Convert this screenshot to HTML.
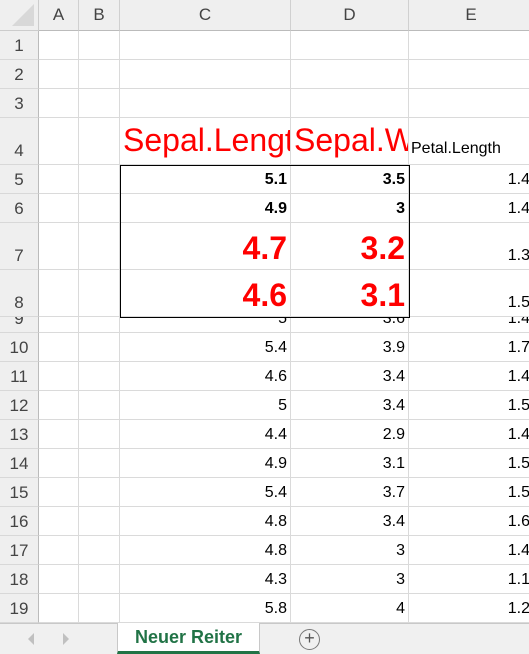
<!DOCTYPE html>
<html><head><meta charset="utf-8"><style>
*{box-sizing:border-box;margin:0;padding:0}
body{width:529px;height:654px;overflow:hidden;background:#fff;font-family:"Liberation Sans",Calibri,sans-serif;position:relative}
.abs{position:absolute}
.hdr{background:#efefef;color:#444;font-size:17px;display:flex;align-items:center;justify-content:center}
.cell{position:absolute;border-right:1px solid #dadada;border-bottom:1px solid #dadada;font-size:16px;color:#000;display:flex;align-items:flex-end;justify-content:flex-end;padding:0 3px 4px 0;white-space:nowrap;overflow:visible}
</style></head><body>
<div id="grid"></div>
<div class="abs" style="left:0;top:0;width:39px;height:31px;background:#efefef;border-right:1px solid #ccc;border-bottom:1px solid #ccc"><div style="position:absolute;right:4px;bottom:4px;width:0;height:0;border-left:22px solid transparent;border-bottom:22px solid #d8d8d8"></div></div>
<div class="abs" style="left:120px;top:165px;width:290px;height:153px;border:1px solid #000;background:transparent;pointer-events:none"></div>
<div class="abs" style="left:0;top:623px;width:529px;height:31px;background:#f0f0f0;border-top:1px solid #c8c8c8"></div>
<div class="abs" style="left:28px;top:633px;width:0;height:0;border-top:6px solid transparent;border-bottom:6px solid transparent;border-right:6px solid #c0c0c0"></div>
<div class="abs" style="left:63px;top:633px;width:0;height:0;border-top:6px solid transparent;border-bottom:6px solid transparent;border-left:6px solid #c0c0c0"></div>
<div class="abs" style="left:117px;top:623px;width:143px;height:31px;background:#fff;border-left:1px solid #c8c8c8;border-right:1px solid #c8c8c8;border-bottom:3px solid #217346;color:#217346;font-weight:bold;font-size:18px;text-align:center;line-height:28px">Neuer Reiter</div>
<div class="abs" style="left:299px;top:629px;width:21px;height:21px;border:1.5px solid #777;border-radius:50%;color:#555;font-size:18px;line-height:17px;text-align:center">+</div>
<script>
const cols=[["A",39,40],["B",79,41],["C",120,171],["D",291,118],["E",409,125]];
const rows=[[1,31,29],[2,60,29],[3,89,29],[4,118,47],[5,165,29],[6,194,29],[7,223,47],[8,270,47],[9,304,29],[10,333,29],[11,362,29],[12,391,29],[13,420,29],[14,449,29],[15,478,29],[16,507,29],[17,536,29],[18,565,29],[19,594,29]];
const colC=["5.1","4.9","4.7","4.6","5","5.4","4.6","5","4.4","4.9","5.4","4.8","4.8","4.3","5.8"];
const colD=["3.5","3","3.2","3.1","3.6","3.9","3.4","3.4","2.9","3.1","3.7","3.4","3","3","4"];
const colE=["1.4","1.4","1.3","1.5","1.4","1.7","1.4","1.5","1.4","1.5","1.5","1.6","1.4","1.1","1.2"];
const g=document.getElementById('grid');
function mk(cls,l,t,w,h,txt){const d=document.createElement('div');d.className=cls;d.style.left=l+'px';d.style.top=t+'px';d.style.width=w+'px';d.style.height=h+'px';if(txt!==undefined)d.textContent=txt;g.appendChild(d);return d;}
const order=[1,2,3,4,5,6,9,10,11,12,13,14,15,16,17,18,19,7,8];
order.forEach(r=>{const R=rows[r-1];cols.forEach((c,ci)=>{
 let txt='';const i=r-5;
 if(r>=5){txt=ci==2?colC[i]:ci==3?colD[i]:ci==4?colE[i]:'';}
 const d=mk('cell',c[1],R[1],c[2],R[2],txt);
 
 
 if(r===4||r===7||r===8)d.style.background='#fff';
 if(r===7||r===8){if(ci===2||ci===3){d.style.color='#f00';d.style.fontWeight='bold';d.style.fontSize='32px';d.style.paddingBottom='2px';}}
 if((r===5||r===6)&&(ci===2||ci===3)){d.style.fontWeight='bold';}
 if(r===4){d.style.justifyContent='flex-start';d.style.overflow='hidden';d.style.paddingLeft='3px';
  if(ci===2){d.textContent='Sepal.Length';d.style.color='#f00';d.style.fontSize='32px';d.style.paddingBottom='5px';}
  if(ci===3){d.textContent='Sepal.Width';d.style.color='#f00';d.style.fontSize='32px';d.style.paddingBottom='5px';}
  if(ci===4){d.textContent='Petal.Length';d.style.paddingLeft='2px';d.style.paddingBottom='6px';d.style.fontSize='16px';}}
});});
cols.forEach(c=>{const d=mk('hdr abs',c[1],0,c[2],31,c[0]);d.style.borderRight='1px solid #d0d0d0';d.style.borderBottom='1px solid #bbb';
 
 });
rows.forEach(R=>{const d=mk('hdr abs',0,R[1],39,R[2],String(R[0]));d.style.borderRight='1px solid #bbb';d.style.borderBottom='1px solid #d8d8d8';d.style.alignItems='flex-end';d.style.paddingBottom='3px';if(R[0]===9){d.style.top='317px';d.style.height='16px';d.style.overflow='hidden';}
 
 });
</script>
</body></html>
